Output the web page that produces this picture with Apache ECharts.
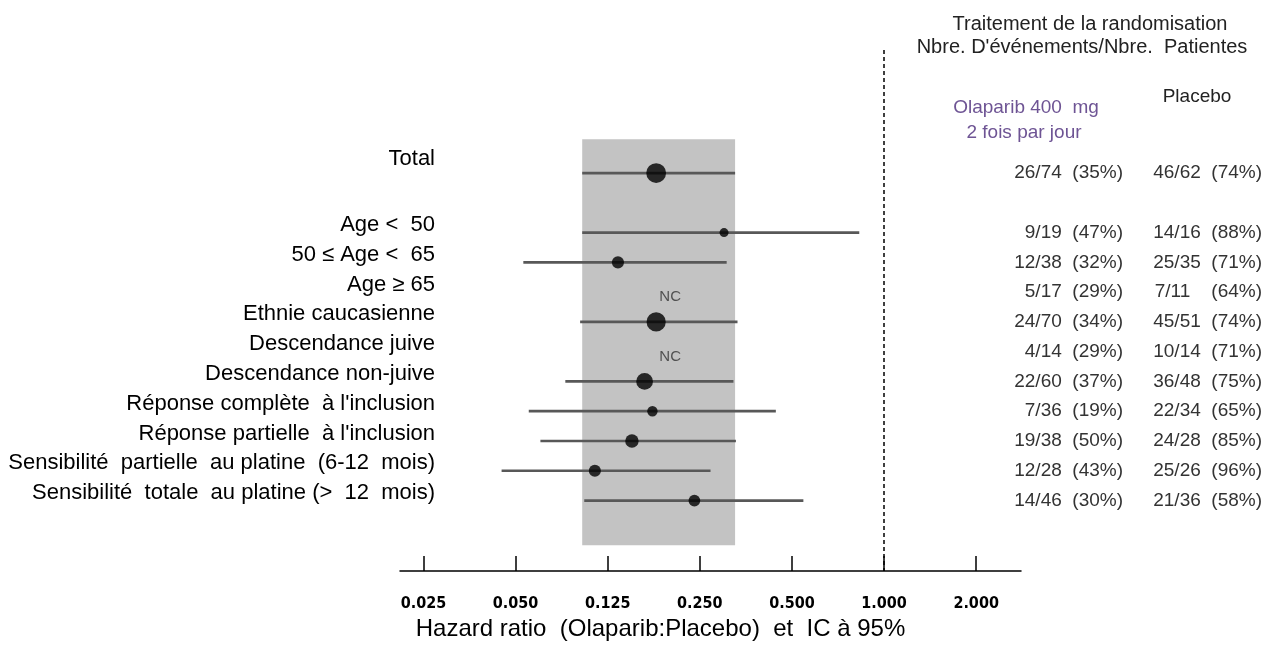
<!DOCTYPE html>
<html>
<head>
<meta charset="utf-8">
<script src="https://cdn.jsdelivr.net/npm/echarts@6/dist/echarts.min.js"></script>
<style>
  html, body { margin: 0; padding: 0; background: #fff; }
  #chart { width: 1265px; height: 646px; }
</style>
</head>
<body>
<div id="chart"></div>
<script>
// tick values of the x axis (evenly spaced on the chart)
const tickValues = [0.025, 0.05, 0.125, 0.25, 0.5, 1, 2];
const tickLabels = ['0.025', '0.050', '0.125', '0.250', '0.500', '1.000', '2.000'];

// one entry per row, '' = empty spacer row
const subgroups = [
  'Total',
  '',
  'Age <  50',
  '50 ≤ Age <  65',
  'Age ≥ 65',
  'Ethnie caucasienne',
  'Descendance juive',
  'Descendance non-juive',
  "Réponse complète  à l'inclusion",
  "Réponse partielle  à l'inclusion",
  'Sensibilité  partielle  au platine  (6-12  mois)',
  'Sensibilité  totale  au platine (>  12  mois)'
];
const hazardRatio = [0.18, null, 0.30, 0.135, null, 0.18, null, 0.165, 0.175, 0.15, 0.11, 0.24];
const ciLower     = [0.097, null, 0.097, 0.054, null, 0.095, null, 0.082, 0.057, 0.064, 0.045, 0.099];
const ciUpper     = [0.326, null, 0.83, 0.306, null, 0.332, null, 0.322, 0.443, 0.328, 0.271, 0.545];
const olaparibCounts = ['26/74  (35%)', '', '9/19  (47%)', '12/38  (32%)', '5/17  (29%)', '24/70  (34%)',
  '4/14  (29%)', '22/60  (37%)', '7/36  (19%)', '19/38  (50%)', '12/28  (43%)', '14/46  (30%)'];
const placeboCounts = ['46/62  (74%)', '', '14/16  (88%)', '25/35  (71%)', '7/11    (64%)', '45/51  (74%)',
  '10/14  (71%)', '36/48  (75%)', '22/34  (65%)', '24/28  (85%)', '25/26  (96%)', '21/36  (58%)'];

const FONT = "'Liberation Sans', Arial, sans-serif";

// hazard ratio -> position on the evenly spaced tick axis (log interpolation between ticks)
function toAxis(v) {
  let i = 0;
  while (i < tickValues.length - 2 && v > tickValues[i + 1]) i++;
  return i + Math.log(v / tickValues[i]) / Math.log(tickValues[i + 1] / tickValues[i]);
}
function events(str) {
  return str ? parseInt(str.split('/')[0], 10) : 0;
}

const ciData = [];
const pointData = [];
const ncData = [];
subgroups.forEach((name, i) => {
  const row = i + 1;
  if (hazardRatio[i] != null) {
    ciData.push([toAxis(ciLower[i]), toAxis(ciUpper[i]), row]);
    pointData.push([toAxis(hazardRatio[i]), row, events(olaparibCounts[i]) + events(placeboCounts[i])]);
  } else if (name) {
    ncData.push([toAxis(0.2), row]);
  }
});
const labelRows = subgroups.map((s, i) => i + 1).filter(r => subgroups[r - 1] !== '');

const yMin = -3.133, yMax = 14.367;
const yScale = { type: 'value', inverse: true, min: yMin, max: yMax,
  axisLine: { show: false }, axisTick: { show: false }, splitLine: { show: false } };

const chart = echarts.init(document.getElementById('chart'));
chart.setOption({
  animation: false,
  textStyle: { fontFamily: FONT },
  grid: { left: 400, right: 244, top: 50, bottom: 71 },
  xAxis: {
    type: 'value',
    position: 'bottom',
    min: -0.255,
    max: 6.487,
    splitLine: { show: false },
    axisLine: { onZero: false, lineStyle: { color: '#000', width: 1.5 } },
    axisTick: { inside: true, length: 15, customValues: [0, 1, 2, 3, 4, 5, 6], lineStyle: { color: '#000', width: 1.5 } },
    axisLabel: {
      customValues: [0, 1, 2, 3, 4, 5, 6],
      formatter: v => tickLabels[Math.round(v)],
      margin: 25,
      fontSize: 16,
      fontWeight: 'bold',
      fontFamily: "'Liberation Sans Narrow', 'DejaVu Sans Condensed', sans-serif",
      color: '#000'
    },
    name: 'Hazard ratio  (Olaparib:Placebo)  et  IC à 95%',
    nameLocation: 'middle',
    nameGap: 46,
    nameTextStyle: { fontSize: 24, color: '#000', fontFamily: FONT, padding: [0, 100, 0, 0] }
  },
  yAxis: [
    Object.assign({}, yScale, {
      position: 'left',
      offset: -35,
      axisLabel: {
        customValues: labelRows,
        formatter: v => (Math.round(v) === 1 ? '{t|Total}' : subgroups[Math.round(v) - 1]),
        margin: 0,
        fontSize: 22,
        color: '#000',
        fontFamily: FONT,
        verticalAlign: 'bottom',
        lineHeight: 15,
        rich: { t: { fontSize: 22, color: '#000', fontFamily: FONT, lineHeight: 15, padding: [0, 0, 14, 0] } }
      }
    }),
    Object.assign({}, yScale, {
      position: 'right',
      axisLabel: {
        customValues: labelRows,
        formatter: v => olaparibCounts[Math.round(v) - 1],
        align: 'right',
        margin: 102,
        fontSize: 19,
        color: '#333',
        fontFamily: FONT
      }
    }),
    Object.assign({}, yScale, {
      position: 'right',
      axisLabel: {
        customValues: labelRows,
        formatter: v => placeboCounts[Math.round(v) - 1],
        align: 'right',
        margin: 241,
        fontSize: 19,
        color: '#333',
        fontFamily: FONT
      }
    })
  ],
  graphic: [
    { type: 'text', x: 1090, y: 24, style: { text: 'Traitement de la randomisation', font: '20px ' + FONT, fill: '#222', align: 'center', verticalAlign: 'middle' } },
    { type: 'text', x: 1082, y: 47, style: { text: "Nbre. D'événements/Nbre.  Patientes", font: '20px ' + FONT, fill: '#222', align: 'center', verticalAlign: 'middle' } },
    { type: 'text', x: 1026, y: 108, style: { text: 'Olaparib 400  mg', font: '19px ' + FONT, fill: '#6e5494', align: 'center', verticalAlign: 'middle' } },
    { type: 'text', x: 1024, y: 133, style: { text: '2 fois par jour', font: '19px ' + FONT, fill: '#6e5494', align: 'center', verticalAlign: 'middle' } },
    { type: 'text', x: 1197, y: 97, style: { text: 'Placebo', font: '19px ' + FONT, fill: '#222', align: 'center', verticalAlign: 'middle' } }
  ],
  series: [
    {
      // grey band = overall CI, dashed line = no effect
      type: 'scatter',
      data: [],
      z: 1,
      markArea: {
        silent: true,
        itemStyle: { color: '#c3c3c3' },
        data: [[{ xAxis: toAxis(ciLower[0]), yAxis: -0.133 }, { xAxis: toAxis(ciUpper[0]), yAxis: 13.5 }]]
      },
      markLine: {
        silent: true,
        symbol: ['none', 'none'],
        label: { show: false },
        lineStyle: { color: '#000', width: 1.5, type: [4, 3] },
        data: [{ xAxis: toAxis(1) }]
      }
    },
    {
      type: 'custom',
      z: 3,
      data: ciData,
      encode: { x: [0, 1], y: 2 },
      renderItem: function (params, api) {
        const a = api.coord([api.value(0), api.value(2)]);
        const b = api.coord([api.value(1), api.value(2)]);
        return {
          type: 'line',
          shape: { x1: a[0], y1: a[1], x2: b[0], y2: b[1] },
          style: { stroke: '#585858', lineWidth: 2.7 }
        };
      }
    },
    {
      type: 'scatter',
      z: 4,
      data: pointData,
      symbol: 'circle',
      symbolSize: val => 4 + 0.22 * val[2],
      itemStyle: { color: '#000' }
    },
    {
      type: 'scatter',
      z: 4,
      data: ncData,
      symbolSize: 0,
      label: { show: true, position: 'inside', offset: [0, 5], formatter: 'NC', fontSize: 15, color: '#333', fontFamily: FONT }
    }
  ]
});
</script>
</body>
</html>
